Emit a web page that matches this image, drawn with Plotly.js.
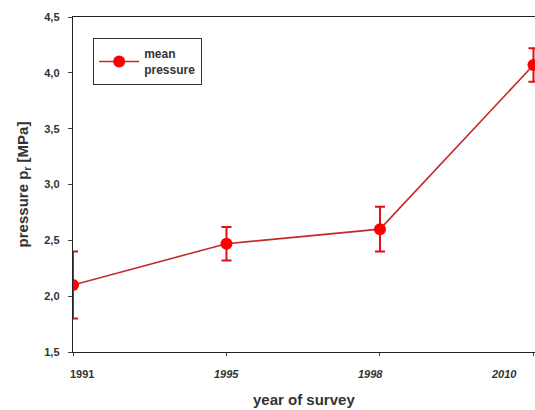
<!DOCTYPE html>
<html>
<head>
<meta charset="utf-8">
<script src="https://cdn.plot.ly/plotly-3.0.1.min.js"></script>
<style>html,body{margin:0;padding:0;background:#fff;}#chart{width:535px;height:410px;}</style>
</head>
<body>
<div id="chart"></div>
<script>
const years = ['1991', '1995', '1998', '2010'];
const yearLabels = ['1991', '<i>1995</i>', '<i>1998</i>', '<i>2010</i>'];
const labelShift = [9, 0, -9, -29];
const meanPressure = [2.1, 2.47, 2.6, 4.07];
const errPressure = [0.3, 0.15, 0.2, 0.15];
const yTicks = [1.5, 2.0, 2.5, 3.0, 3.5, 4.0, 4.5];

const trace = {
  x: years,
  y: meanPressure,
  type: 'scatter',
  mode: 'lines+markers',
  name: 'mean<br>pressure',
  line: {color: '#c42a2a', width: 1.6},
  marker: {color: '#ff0000', size: 12},
  error_y: {type: 'data', array: errPressure, visible: true, color: '#e01010', thickness: 2, width: 5}
};

// category axis: annotations positioned by category index
const annotations = years.map((yr, i) => ({
  x: i, xref: 'x', y: 0, yref: 'paper',
  text: yearLabels[i], showarrow: false,
  xanchor: 'center', yanchor: 'middle',
  xshift: labelShift[i], yshift: -22,
  font: {size: 11, weight: 'bold', color: '#333', family: 'Liberation Sans, Arial, sans-serif'}
}));
annotations.push({
  x: 0.5, xref: 'paper', y: 0, yref: 'paper', yshift: -47,
  text: 'year of survey', showarrow: false, xanchor: 'center', yanchor: 'middle',
  font: {size: 15, weight: 'bold', color: '#333', family: 'Liberation Sans, Arial, sans-serif'}
});

const layout = {
  width: 535, height: 410,
  margin: {l: 73, r: 0, t: 17, b: 58},
  paper_bgcolor: '#fff', plot_bgcolor: '#fff',
  separators: ', ',
  font: {family: 'Liberation Sans, Arial, sans-serif', color: '#222'},
  showlegend: true,
  legend: {
    x: 0.043, y: 0.937, xanchor: 'left', yanchor: 'top',
    bordercolor: '#333', borderwidth: 1.3, bgcolor: '#fff',
    font: {size: 12, family: 'Liberation Sans, Arial, sans-serif', color: '#333', weight: 'bold'},
    itemwidth: 40
  },
  annotations: annotations,
  xaxis: {
    type: 'category',
    range: [0, 3.01],
    tickvals: years, showticklabels: false,
    showline: true, linecolor: '#222', linewidth: 1.3, mirror: true,
    ticks: 'outside', ticklen: 3, tickcolor: '#444',
    showgrid: false, zeroline: false
  },
  yaxis: {
    range: [1.5, 4.5],
    tickvals: yTicks, tickformat: '.1f',
    showline: true, linecolor: '#222', linewidth: 1.3, mirror: false,
    ticks: 'outside', ticklen: 4, tickcolor: '#444',
    ticklabelstandoff: 6,
    showgrid: false, zeroline: false,
    tickfont: {size: 11, weight: 'bold', color: '#333'},
    title: {text: 'pressure p<sub>r</sub> [MPa]', font: {size: 15, weight: 'bold', color: '#333'}, standoff: 12}
  }
};

Plotly.newPlot('chart', [trace], layout, {displayModeBar: false, staticPlot: true});
</script>
</body>
</html>
